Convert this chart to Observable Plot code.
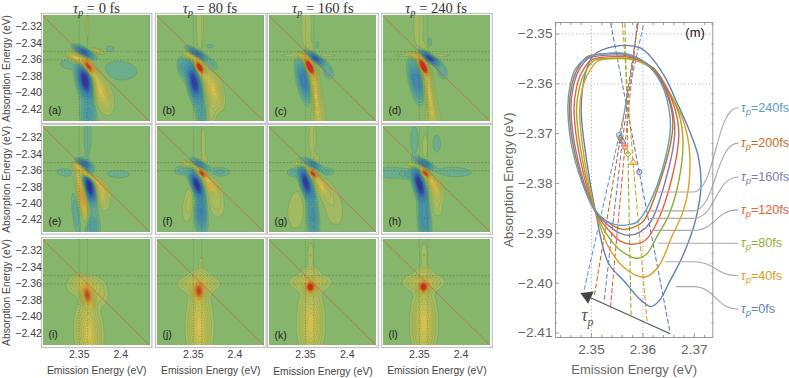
<!DOCTYPE html>
<html><head><meta charset="utf-8">
<script src="https://cdn.jsdelivr.net/npm/d3@7"></script>
<script src="https://cdn.jsdelivr.net/npm/@observablehq/plot@0.6"></script>
<style>
html,body{margin:0;padding:0;background:#fff;overflow:hidden}
#fig{position:relative;width:789px;height:378px;overflow:hidden}
#fig>svg{position:absolute;overflow:visible;background:transparent}
.ttl{position:absolute;font:14.5px "Liberation Serif",serif;color:#333;text-align:center;white-space:nowrap;line-height:16px}
.ttl sub{font-size:10px;line-height:0;vertical-align:-3px}
</style></head><body><div id="fig"></div>
<script>
// ---- small panels: each lobe is [x, y, long sigma, short sigma, tilt deg, amplitude]
const delays = [0, 80, 160, 240];
const letters = ["a","b","c","d","e","f","g","h","i","j","k","l"];
const lobesA = [[2.3603,-2.368,.0075,.0028,35,1.2],[2.3575,-2.385,.013,.0042,12,-1.1],[2.3555,-2.3505,.007,.0022,62,-.75],[2.3745,-2.397,.014,.0055,22,.45],[2.346,-2.358,.006,.003,55,.5],[2.372,-2.3495,.005,.0015,75,.25],[2.399,-2.373,.018,.01,85,-.095],[2.337,-2.365,.008,.005,90,-.095],[2.387,-2.3465,.004,.003,90,-.09],[2.361,-2.428,.012,.0045,5,-.3],[2.36,-2.32,.018,.002,0,.07]];
const lobesB = [[2.3572,-2.369,.0065,.0025,28,1.15],[2.3512,-2.3873,.014,.0036,12,-.95],[2.355,-2.3527,.007,.002,60,-.7],[2.3735,-2.395,.013,.005,18,.42],[2.345,-2.355,.005,.0022,60,.4],[2.358,-2.315,.03,.0035,0,.1],[2.373,-2.367,.006,.004,40,-.13],[2.37,-2.3433,.004,.002,90,-.09],[2.3375,-2.369,.008,.004,10,-.22],[2.36,-2.428,.012,.004,5,-.2],[2.372,-2.425,.012,.004,0,.12]];
const lobesC = [[2.3544,-2.3677,.007,.0022,25,1.2],[2.361,-2.3575,.0075,.0022,55,-.85],[2.3484,-2.3852,.014,.0036,12,-.6],[2.361,-2.396,.02,.0032,8,.44],[2.354,-2.3547,.028,.0018,90,.095],[2.345,-2.355,.005,.002,70,.35],[2.3512,-2.318,.024,.005,0,.095],[2.3638,-2.3416,.004,.002,0,-.09],[2.3775,-2.375,.006,.004,20,-.14],[2.356,-2.345,.004,.003,60,.1],[2.365,-2.43,.01,.006,0,.12]];
const lobesD = [[2.3544,-2.3677,.007,.0022,25,1.25],[2.3615,-2.3575,.0075,.0022,55,-.95],[2.3465,-2.3852,.014,.0038,12,-.5],[2.3615,-2.4,.02,.0032,8,.36],[2.354,-2.3547,.028,.0018,90,.095],[2.345,-2.355,.005,.002,70,.35],[2.349,-2.318,.024,.005,0,.095],[2.3623,-2.3385,.005,.002,0,-.095],[2.3775,-2.375,.006,.004,20,-.14],[2.356,-2.345,.004,.003,60,.1],[2.366,-2.43,.01,.006,0,.12]];
const lobesE = [[2.359,-2.3644,.0065,.002,50,1.05],[2.3746,-2.3783,.007,.0028,45,.42],[2.3623,-2.3785,.012,.0032,12,-1.15],[2.3554,-2.351,.006,.002,65,-.55],[2.347,-2.354,.0035,.002,70,.3],[2.3535,-2.3905,.017,.0028,10,.7],[2.3765,-2.3905,.009,.004,18,.28],[2.333,-2.362,.009,.004,85,-.095],[2.397,-2.364,.012,.004,88,-.095],[2.346,-2.41,.017,.003,6,-.16],[2.365,-2.427,.01,.0045,4,-.28],[2.36,-2.318,.02,.004,0,-.09]];
const lobesF = [[2.36,-2.363,.005,.002,45,1],[2.371,-2.378,.007,.0035,35,.5],[2.354,-2.3765,.009,.003,20,-1.05],[2.359,-2.41,.014,.0035,3,-.52],[2.358,-2.352,.006,.002,60,-.5],[2.3367,-2.36,.007,.004,88,-.13],[2.382,-2.3613,.009,.004,88,-.12],[2.377,-2.3985,.013,.007,12,.13],[2.3447,-2.4,.016,.005,-8,.13],[2.362,-2.325,.016,.0025,0,.09],[2.363,-2.346,.004,.003,0,.12],[2.343,-2.352,.004,.0018,70,.35]];
const lobesG = [[2.3585,-2.3635,.005,.002,45,1],[2.3504,-2.3745,.011,.003,15,-1],[2.3585,-2.4155,.018,.0035,3,-.38],[2.359,-2.352,.006,.002,60,-.5],[2.3375,-2.3625,.007,.004,88,-.13],[2.376,-2.3613,.007,.004,88,-.12],[2.3695,-2.38,.008,.0035,30,.42],[2.3395,-2.4075,.02,.009,-5,.095],[2.3835,-2.403,.02,.009,10,.095],[2.3585,-2.32,.018,.004,0,.09],[2.363,-2.346,.004,.003,30,.1],[2.342,-2.352,.004,.0018,70,.3]];
const lobesH = [[2.3568,-2.363,.005,.002,45,1],[2.35,-2.3765,.011,.003,15,-1.05],[2.356,-2.4185,.018,.0035,3,-.42],[2.356,-2.351,.006,.002,60,-.6],[2.368,-2.3785,.008,.0035,30,.47],[2.318,-2.3625,.018,.006,88,-.095],[2.392,-2.3615,.018,.005,88,-.095],[2.344,-2.322,.014,.004,0,-.095],[2.3568,-2.33,.012,.0025,0,.1],[2.3708,-2.327,.009,.004,0,-.095],[2.37,-2.3985,.012,.005,8,.13],[2.342,-2.353,.004,.0018,70,.3],[2.336,-2.365,.005,.003,80,-.13]];
const lobesI = [[2.36,-2.375,.0085,.004,12,.85],[2.3615,-2.42,.022,.009,3,.4],[2.357,-2.362,.007,.012,0,.3],[2.376,-2.374,.009,.007,10,.1],[2.351,-2.352,.003,.006,0,.1]];
const lobesJ = [[2.3567,-2.37,.0075,.0045,0,.8],[2.3575,-2.412,.025,.0085,0,.4],[2.3565,-2.36,.006,.0135,0,.3],[2.3595,-2.336,.006,.002,0,.11],[2.358,-2.348,.004,.007,0,.12]];
const lobesK = [[2.3558,-2.3647,.005,.004,0,.85],[2.3565,-2.408,.024,.0085,0,.4],[2.356,-2.358,.006,.0135,0,.3],[2.356,-2.325,.012,.0028,0,.1],[2.356,-2.344,.003,.006,0,.16]];
const lobesL = [[2.355,-2.3645,.005,.004,0,.85],[2.3555,-2.408,.024,.0085,0,.4],[2.355,-2.358,.006,.0135,0,.3],[2.3555,-2.325,.012,.0028,0,.1],[2.3555,-2.344,.003,.006,0,.16]];
const panelLobes = [lobesA,lobesB,lobesC,lobesD,lobesE,lobesF,lobesG,lobesH,lobesI,lobesJ,lobesK,lobesL];
const smallXTicks = [2.35, 2.4];
const smallYTicks = [-2.32,-2.34,-2.36,-2.38,-2.40,-2.42];
const guideX = [2.35, 2.36];
const guideY = [-2.35, -2.36];
const diagonal = [[2.307,-2.307],[2.435,-2.435]];

// ---- right chart: closed curves
const delaysBig = [0,40,80,120,160,200,240];
const curve0 = [[2.3533,-2.396],[2.3563,-2.3995],[2.3595,-2.4033],[2.3615,-2.4047],[2.3632,-2.4035],[2.3653,-2.3995],[2.3679,-2.3942],[2.3702,-2.3875],[2.3713,-2.3807],[2.3708,-2.3747],[2.3689,-2.369],[2.3665,-2.3635],[2.3647,-2.3594],[2.3621,-2.3553],[2.3595,-2.3528],[2.3545,-2.3525],[2.3504,-2.3543],[2.3488,-2.358],[2.348,-2.365],[2.349,-2.375],[2.3508,-2.3857]];
const curve40 = [[2.3533,-2.3927],[2.3565,-2.397],[2.3603,-2.3988],[2.363,-2.3967],[2.3657,-2.3905],[2.3678,-2.3857],[2.3689,-2.3807],[2.369,-2.3727],[2.3676,-2.3667],[2.3653,-2.362],[2.362,-2.3572],[2.358,-2.3552],[2.3535,-2.355],[2.3511,-2.3555],[2.3492,-2.3582],[2.3482,-2.361],[2.3477,-2.365],[2.3486,-2.375],[2.3508,-2.3857]];
const curve80 = [[2.3533,-2.3907],[2.356,-2.3937],[2.3589,-2.395],[2.3607,-2.3942],[2.3627,-2.3907],[2.3651,-2.3862],[2.367,-2.3794],[2.3678,-2.3714],[2.367,-2.366],[2.3645,-2.3605],[2.362,-2.3568],[2.358,-2.355],[2.3535,-2.3549],[2.3505,-2.3553],[2.3486,-2.358],[2.3476,-2.361],[2.3471,-2.365],[2.3482,-2.375],[2.3508,-2.3857]];
const curve120 = [[2.3533,-2.3893],[2.3555,-2.3915],[2.3579,-2.3922],[2.3605,-2.3914],[2.3628,-2.3877],[2.3657,-2.3787],[2.367,-2.37],[2.3663,-2.3653],[2.3642,-2.36],[2.3615,-2.3565],[2.3575,-2.3547],[2.353,-2.3546],[2.35,-2.3552],[2.3481,-2.3577],[2.3471,-2.3607],[2.3466,-2.365],[2.3478,-2.375],[2.3508,-2.3857]];
const curve160 = [[2.3533,-2.3884],[2.3552,-2.3898],[2.3572,-2.3904],[2.3595,-2.3897],[2.3615,-2.3877],[2.3644,-2.3794],[2.3662,-2.37],[2.3659,-2.366],[2.364,-2.36],[2.361,-2.3562],[2.357,-2.3544],[2.3525,-2.3543],[2.3494,-2.3549],[2.3475,-2.3574],[2.3465,-2.3604],[2.346,-2.365],[2.3473,-2.375],[2.3508,-2.3857]];
const curve200 = [[2.3533,-2.3878],[2.3548,-2.3888],[2.3563,-2.3892],[2.3582,-2.3888],[2.3602,-2.3874],[2.3634,-2.3794],[2.3657,-2.37],[2.3657,-2.366],[2.3638,-2.36],[2.3608,-2.356],[2.3568,-2.3541],[2.352,-2.354],[2.3491,-2.3546],[2.3472,-2.3572],[2.3462,-2.3602],[2.3457,-2.365],[2.347,-2.375],[2.3508,-2.3857]];
const curve240 = [[2.3527,-2.3874],[2.3545,-2.3882],[2.356,-2.3884],[2.3575,-2.3882],[2.3589,-2.3877],[2.3624,-2.3814],[2.3652,-2.3707],[2.3653,-2.3667],[2.3636,-2.36],[2.3605,-2.3558],[2.3565,-2.3539],[2.3537,-2.3539],[2.3504,-2.3543],[2.3488,-2.355],[2.3469,-2.357],[2.3459,-2.36],[2.3454,-2.3649],[2.3467,-2.375],[2.3505,-2.385]];
const curves = [curve0,curve40,curve80,curve120,curve160,curve200,curve240];
const seriesColors = ["#5e81b5","#e19c24","#8fb032","#eb6235","#8778b3","#c56e1a","#5d9ec7"];
const dashBottom = [[2.3652,-2.4094],[2.3608,-2.4075],[2.3577,-2.4063],[2.3537,-2.4047],[2.3525,-2.4032],[2.3506,-2.4023],[2.3486,-2.4012]];
const dashTop = [[2.3537,-2.3477],[2.356,-2.3477],[2.3565,-2.3477],[2.3589,-2.3477],[2.359,-2.3477],[2.3591,-2.3477],[2.3602,-2.3477]];
const peaks = [[2.3593,-2.3777],[2.3581,-2.3758],[2.3571,-2.3741],[2.3565,-2.3727],[2.356,-2.3715],[2.3556,-2.371],[2.3554,-2.3703]];
const peakSymbols = ["circle","triangle","diamond2","square2","triangle","diamond","hexagon"];
const leaderStart = [[2.3665,-2.4007],[2.3644,-2.3957],[2.363,-2.392],[2.3618,-2.3894],[2.3615,-2.387],[2.3611,-2.3855],[2.362,-2.3817]];
const leaderBend = [[2.3698,-2.4007],[2.3698,-2.3957],[2.3698,-2.392],[2.3698,-2.3894],[2.3698,-2.387],[2.3698,-2.3855],[2.3698,-2.3817]];
const leaderEnd = [[2.3785,-2.4052],[2.3785,-2.3985],[2.3785,-2.392],[2.3785,-2.3853],[2.3785,-2.3787],[2.3785,-2.3719],[2.3785,-2.3648]];
const bigXTicks = [2.35,2.36,2.37];
const bigYTicks = [-2.35,-2.36,-2.37,-2.38,-2.39,-2.40,-2.41];
const bigXMinor = [2.344,2.346,2.348,2.352,2.354,2.356,2.358,2.362,2.364,2.366,2.368,2.372];
const bigYMinor = [-2.348,-2.352,-2.354,-2.356,-2.358,-2.362,-2.364,-2.366,-2.368,-2.372,-2.374,-2.376,-2.378,-2.382,-2.384,-2.386,-2.388,-2.392,-2.394,-2.396,-2.398,-2.402,-2.404,-2.406,-2.408];
const arrowFrom = [2.3652,-2.4101], arrowTo = [2.3484,-2.4022], arrowHead = [2.3492,-2.4026], tauAt = [2.3492,-2.4064];

// ---- colours of the contour bands
const levels = [-1.1,-.85,-.6,-.3,-.1,-.05,.05,.4,.7,.9,1];
const levelColors = ["#33339f","#3a4cb2","#3f7fbe","#4f9ea6","#6cad8b","#85b66c","#a2bb62","#d9c24e","#e2983a","#dc4a2c","#e21f26"];
const thresholds = [-3,-1.1,-1,-.9,-.8,-.7,-.6,-.5,-.42,-.35,-.28,-.22,-.16,-.1,-.05,.05,.1,.15,.2,.25,.3,.35,.4,.45,.5,.55,.6,.65,.7,.75,.8,.85,.9,.95,1];

const fig = document.getElementById("fig");
const colLeft = [43.3,156.7,269.3,382.7], colW = [106.4,106.6,107,106.8];
const rowTop = [14.8,126.3,238.7], rowH = [106,105.7,106];
const sansFont = "'Liberation Sans',Arial,sans-serif";

function field(lobes,wide){
  const ls = lobes.map(([x0,y0,L,W,t,a]) => { const g=wide&&Math.abs(a)>=.25;
    return {x0,y0,L:g?L*1.1:L,W:g?W*1.25:W,a,s:Math.sin(t*Math.PI/180),c:Math.cos(t*Math.PI/180)}; });
  return (x,y) => { let v = 0;
    for (const l of ls){ const dx=x-l.x0, dy=y-l.y0, u=(dx*l.s-dy*l.c)/l.L, w=(dx*l.c+dy*l.s)/l.W;
      const e=.5*(u*u+w*w); if(e<30) v+=l.a*Math.exp(-e);} return v; };
}
function sizeText(svg,sel,size){ svg.querySelectorAll(sel).forEach(g=>{ g.style.fontSize=size+"px"; g.querySelectorAll("text").forEach(t=>t.style.fontSize=size+"px"); }); }

panelLobes.forEach((lobes,i)=>{
  const c=i%4, r=Math.floor(i/4);
  const ml=c===0?43:4, mr=4, mt=4, mb=r===2?33:4;
  const marks=[
    Plot.contour({x1:2.30,x2:2.44,y1:-2.44,y2:-2.30,value:field(lobes,r<2),fill:"value",stroke:"#2c3a20",strokeOpacity:.2,strokeWidth:.5,thresholds,pixelSize:.5,clip:true}),
    Plot.ruleX(guideX,{stroke:"#3c5a30",strokeDasharray:"1.2,1.5",strokeWidth:.5,strokeOpacity:.6}),
    Plot.ruleY(guideY,{stroke:"#3c5a30",strokeDasharray:"2,1.5",strokeWidth:.5,strokeOpacity:.7}),
    Plot.line(diagonal,{stroke:"#e8383a",strokeWidth:.7,strokeDasharray:"1,1.2",strokeOpacity:.85}),
    Plot.frame({stroke:"#c4c4c4",strokeWidth:1.3,inset:-2}),
    Plot.text([`(${letters[i]})`],{frameAnchor:"bottom-left",dx:5,dy:-7,fontSize:10.5,fill:"#222",fontFamily:sansFont})
  ];
  marks.push(c===0
    ? Plot.axisY(smallYTicks,{anchor:"left",tickSize:0,tickPadding:1.5,fill:"#444",tickFormat:d=>d3.format(".2f")(d).replace("-","\u2212"),label:"Absorption Energy (eV)",labelAnchor:"center",labelArrow:"none",labelOffset:41})
    : Plot.axisY({ticks:[],label:null,tickSize:0}));
  marks.push(r===2
    ? Plot.axisX(smallXTicks,{anchor:"bottom",tickSize:0,tickPadding:4.5,fill:"#444",tickFormat:d=>d===2.4?"2.4":"2.35",label:"Emission Energy (eV)",labelAnchor:"center",labelArrow:"none",labelOffset:29})
    : Plot.axisX({ticks:[],label:null,tickSize:0}));
  const p=Plot.plot({
    width:colW[c]+ml+mr,height:rowH[r]+mt+mb,marginLeft:ml,marginRight:mr,marginTop:mt,marginBottom:mb,
    style:{fontFamily:sansFont,fontSize:"10.3px",background:"transparent",color:"#444"},
    x:{domain:[2.307,2.435]},y:{domain:[-2.435,-2.306]},
    color:{type:"linear",domain:levels,range:levelColors,clamp:true},
    marks
  });
  sizeText(p,'g[aria-label="y-axis tick label"],g[aria-label="x-axis tick label"]',10.6);
  sizeText(p,'g[aria-label="y-axis label"],g[aria-label="x-axis label"]',10.3);
  p.style.left=(colLeft[c]-ml)+"px"; p.style.top=(rowTop[r]-mt)+"px";
  fig.appendChild(p);
});

delays.forEach((d,c)=>{
  const t=document.createElement("div"); t.className="ttl";
  t.innerHTML=`<i>\u03c4<sub>p</sub></i> = ${d} fs`;
  t.style.left=colLeft[c]+"px"; t.style.width=colW[c]+"px"; t.style.top="0px";
  fig.appendChild(t);
});

// ---- right chart
const curveRows = curves.flatMap((pts,k)=>pts.map(([x,y])=>({x,y,k})));
const dashRows = delaysBig.flatMap((d,k)=>[dashBottom[k],peaks[k],dashTop[k]].map(([x,y])=>({x,y,k})));
const leaderRows = delaysBig.flatMap((d,k)=>[leaderStart[k],leaderBend[k],leaderEnd[k]].map(([x,y])=>({x,y,k})));
const labelRows = delaysBig.map((d,k)=>({x:leaderEnd[k][0],y:leaderEnd[k][1],k,t:`\u03c4p=${d}fs`}));
const fmtBig = d=>d3.format(".2f")(d).replace("-","\u2212");
const big = Plot.plot({
  width:789-500,height:360,marginLeft:555-500,marginRight:789-712.3,marginTop:22,marginBottom:360-337,
  style:{fontFamily:sansFont,fontSize:"13px",background:"transparent",color:"#666"},
  x:{domain:[2.343,2.3736]},y:{domain:[-2.4109,-2.3477]},
  marks:[
    Plot.ruleX(guideX,{stroke:"#aaa",strokeDasharray:"1,2.5",strokeWidth:1}),
    Plot.ruleY(guideY,{stroke:"#aaa",strokeDasharray:"1,2.5",strokeWidth:1}),
    Plot.line(dashRows,{x:"x",y:"y",z:"k",stroke:d=>seriesColors[d.k],strokeDasharray:"4,3",strokeWidth:1.1,clip:true}),
    Plot.line(curveRows,{x:"x",y:"y",z:"k",stroke:d=>seriesColors[d.k],curve:"catmull-rom-closed",strokeWidth:1.4}),
    Plot.dot(peaks,{x:d=>d[0],y:d=>d[1],r:2.6,symbol:(d,i)=>peakSymbols[i],stroke:(d,i)=>seriesColors[i],fill:(d,i)=>seriesColors[i],fillOpacity:.25,strokeWidth:1}),
    Plot.line(leaderRows,{x:"x",y:"y",z:"k",stroke:"#aaa",strokeWidth:1.1,curve:"bump-x"}),
    Plot.text(labelRows,{x:"x",y:"y",dx:3,text:"t",fill:d=>seriesColors[d.k],textAnchor:"start",fontSize:12.6,fontFamily:sansFont}),
    Plot.arrow([0],{x1:()=>arrowFrom[0],y1:()=>arrowFrom[1],x2:()=>arrowHead[0],y2:()=>arrowHead[1],stroke:"#555",strokeWidth:1.1,headLength:0}),
    Plot.dot([0],{x:()=>arrowHead[0],y:()=>arrowHead[1],symbol:"triangle",r:5,rotate:-65.6,fill:"#444"}),
    Plot.text(["\u03c4p"],{x:()=>tauAt[0],y:()=>tauAt[1],text:d=>d,fill:"#555",fontSize:18,fontFamily:"'Liberation Serif',serif",fontStyle:"italic"}),
    Plot.text(["(m)"],{frameAnchor:"top-right",dx:-8,dy:5,fontSize:13,fill:"#111",fontFamily:sansFont}),
    Plot.frame({stroke:"#999",strokeWidth:1}),
    Plot.axisY(bigYMinor,{anchor:"left",tickSize:-2,text:null,label:null,stroke:"#999"}),
    Plot.axisY(bigYMinor,{anchor:"right",tickSize:-2,text:null,label:null,stroke:"#999"}),
    Plot.axisX(bigXMinor,{anchor:"bottom",tickSize:-2,text:null,label:null,stroke:"#999"}),
    Plot.axisX(bigXMinor,{anchor:"top",tickSize:-2,text:null,label:null,stroke:"#999"}),
    Plot.axisY(bigYTicks,{anchor:"left",tickSize:-4,tickPadding:7,tickFormat:fmtBig,fill:"#666",stroke:"#999",label:"Absorption Energy (eV)",labelAnchor:"center",labelArrow:"none",labelOffset:52}),
    Plot.axisX(bigXTicks,{anchor:"bottom",tickSize:-4,tickPadding:11,tickFormat:".2f",fill:"#666",stroke:"#999",label:"Emission Energy (eV)",labelAnchor:"center",labelArrow:"none",labelOffset:36})
  ]
});
sizeText(big,'g[aria-label="y-axis tick label"],g[aria-label="x-axis tick label"]',13.6);
sizeText(big,'g[aria-label="y-axis label"],g[aria-label="x-axis label"]',13);
big.style.left="500px"; big.style.top="0px";
fig.appendChild(big);
d3.select(big).selectAll("text").each(function(){
  const s=this.textContent; if(!/^\u03c4p/.test(s)) return;
  const el=d3.select(this), isTau=s==="\u03c4p";
  el.text(null);
  el.append("tspan").attr("font-style","italic").text("\u03c4");
  el.append("tspan").attr("font-style","italic").attr("dy",isTau?"5":"3").attr("font-size",isTau?"12":"9.5").text("p");
  if(!isTau) el.append("tspan").attr("dy","-3").text(s.slice(2));
});
</script></body></html>
